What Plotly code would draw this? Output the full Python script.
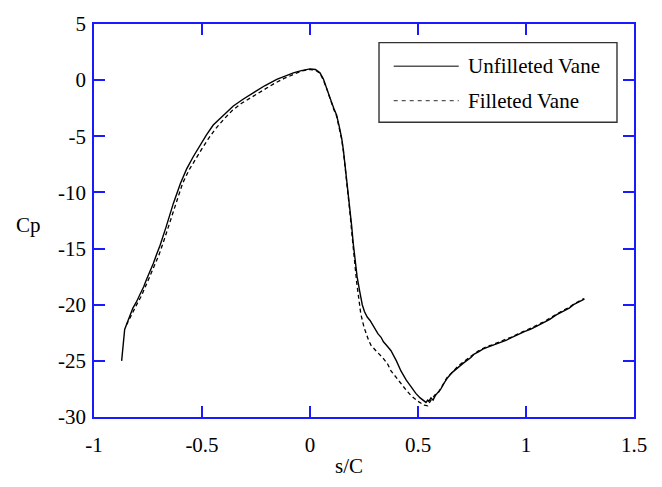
import plotly.graph_objects as go

# Unfilleted vane (solid)
s_unf = [-0.872, -0.868, -0.864, -0.858, -0.848, -0.835, -0.82, -0.805, -0.787, -0.77,
         -0.756, -0.74, -0.725, -0.71, -0.694, -0.665, -0.633, -0.6, -0.571, -0.54,
         -0.509, -0.48, -0.448, -0.4, -0.355, -0.31, -0.262, -0.21, -0.154, -0.11,
         -0.077, -0.04, 0.0, 0.025, 0.046, 0.062, 0.078, 0.093, 0.11, 0.123,
         0.135, 0.147, 0.155, 0.162, 0.17, 0.177, 0.185, 0.193, 0.2, 0.208,
         0.218, 0.231, 0.242, 0.252, 0.265, 0.278, 0.29, 0.301, 0.315, 0.329,
         0.34, 0.358, 0.375, 0.4, 0.421, 0.445, 0.468, 0.49, 0.51, 0.525,
         0.537, 0.545, 0.55, 0.56, 0.57, 0.58, 0.595, 0.606, 0.62, 0.637,
         0.66, 0.684, 0.71, 0.745, 0.76, 0.78, 0.8, 0.82, 0.84, 0.869,
         0.89, 0.91, 0.93, 0.95, 0.97, 0.992, 1.02, 1.05, 1.085, 1.11,
         1.14, 1.177, 1.2, 1.22, 1.24, 1.255, 1.27]
cp_unf = [-25.0, -24.0, -23.0, -22.2, -21.7, -21.0, -20.3, -19.8, -19.1, -18.4,
          -17.7, -17.0, -16.3, -15.5, -14.7, -13.0, -11.0, -9.2, -7.9, -6.8,
          -5.77, -4.9, -4.0, -3.1, -2.3, -1.7, -1.1, -0.5, 0.07, 0.4,
          0.65, 0.85, 1.0, 0.95, 0.65, 0.1, -0.7, -1.6, -2.5, -3.1,
          -4.1, -5.2, -6.3, -7.5, -8.7, -9.8, -11.5, -13.0, -14.5, -16.0,
          -17.5, -18.9, -20.0, -20.6, -21.1, -21.4, -21.8, -22.2, -22.6, -22.9,
          -23.3, -23.7, -24.1, -25.0, -25.9, -26.7, -27.3, -27.9, -28.3, -28.5,
          -28.7, -28.5, -28.6, -28.3, -28.5, -28.1, -27.8, -27.5, -27.0, -26.5,
          -26.0, -25.6, -25.2, -24.7, -24.4, -24.2, -23.95, -23.8, -23.65, -23.5,
          -23.3, -23.15, -22.95, -22.8, -22.6, -22.4, -22.2, -21.9, -21.55, -21.3,
          -20.9, -20.5, -20.3, -20.0, -19.8, -19.6, -19.5]

# Filleted vane (dashed)
s_fil = [-0.85, -0.835, -0.82, -0.8, -0.78, -0.76, -0.74, -0.72, -0.70, -0.68,
         -0.65, -0.62, -0.59, -0.56, -0.53, -0.5, -0.47, -0.44, -0.4, -0.36,
         -0.32, -0.27, -0.22, -0.17, -0.12, -0.08, -0.04, 0.0, 0.025, 0.046,
         0.062, 0.078, 0.093, 0.11, 0.123, 0.135, 0.147, 0.155, 0.162, 0.17,
         0.177, 0.185, 0.193, 0.2, 0.208, 0.216, 0.235, 0.25, 0.27, 0.282,
         0.31, 0.336, 0.36, 0.375, 0.4, 0.421, 0.445, 0.468, 0.5, 0.529,
         0.545, 0.56, 0.58, 0.595, 0.606, 0.62, 0.637, 0.66, 0.684, 0.71,
         0.745, 0.76, 0.78, 0.8, 0.82, 0.84, 0.869, 0.89, 0.91, 0.93,
         0.95, 0.97, 0.992, 1.02, 1.05, 1.085, 1.11, 1.14, 1.177, 1.2,
         1.22, 1.24, 1.255, 1.27]
cp_fil = [-21.8, -21.2, -20.6, -19.9, -19.2, -18.3, -17.5, -16.6, -15.6, -14.5,
          -12.7, -10.8, -9.2, -8.0, -7.0, -6.1, -5.2, -4.4, -3.5, -2.7,
          -2.1, -1.5, -0.9, -0.35, 0.15, 0.5, 0.8, 0.95, 0.9, 0.6,
          0.0, -0.8, -1.7, -2.6, -3.2, -4.2, -5.3, -6.4, -7.6, -8.9,
          -10.1, -11.8, -13.5, -15.0, -16.3, -18.0, -20.8, -22.0, -23.1, -23.6,
          -24.2, -24.7, -25.3, -25.9, -26.5, -27.05, -27.6, -28.1, -28.6, -28.95,
          -29.0, -28.5, -28.0, -27.8, -27.4, -27.0, -26.4, -26.0, -25.5, -25.1,
          -24.6, -24.4, -24.1, -23.9, -23.7, -23.6, -23.4, -23.2, -23.05, -22.9,
          -22.7, -22.5, -22.35, -22.1, -21.85, -21.5, -21.2, -20.85, -20.45, -20.25,
          -19.95, -19.75, -19.55, -19.45]

x_ticks = [-1, -0.5, 0, 0.5, 1, 1.5]
x_tick_labels = ["-1", "-0.5", "0", "0.5", "1", "1.5"]
y_ticks = [5, 0, -5, -10, -15, -20, -25, -30]
y_tick_labels = ["5", "0", "-5", "-10", "-15", "-20", "-25", "-30"]

FONT = "Liberation Serif"
AXC = "#1a1aff"

fig = go.Figure()
fig.add_trace(go.Scatter(x=s_unf, y=cp_unf, mode="lines", name="Unfilleted Vane",
                         line=dict(color="black", width=1.4), showlegend=False))
fig.add_trace(go.Scatter(x=s_fil, y=cp_fil, mode="lines", name="Filleted Vane",
                         line=dict(color="black", width=1.3, dash="4px,3px"), showlegend=False))

axis_common = dict(showline=True, linecolor=AXC, linewidth=1.5, mirror="ticks",
                   ticks="inside", ticklen=11, tickwidth=1.5, tickcolor=AXC,
                   showgrid=False, zeroline=False,
                   tickfont=dict(family=FONT, size=21, color="black"))
fig.update_xaxes(range=[-1, 1.5], tickvals=x_ticks, ticktext=x_tick_labels,
                 ticklabelstandoff=8, **axis_common)
fig.update_yaxes(range=[-30, 5], tickvals=y_ticks, ticktext=y_tick_labels,
                 ticklabelstandoff=2, **axis_common)

# Legend (drawn in paper coordinates)
L = dict(x0=0.5278, x1=0.9685, y0=0.75, y1=0.9525)
fig.add_shape(type="rect", xref="paper", yref="paper", **L,
              line=dict(color="#333333", width=1.4), fillcolor="white")
fig.add_shape(type="line", xref="paper", yref="paper", x0=0.555, x1=0.6754,
              y0=0.8925, y1=0.8925, line=dict(color="#555555", width=1.3))
fig.add_shape(type="line", xref="paper", yref="paper", x0=0.555, x1=0.6754,
              y0=0.805, y1=0.805, line=dict(color="#555555", width=1.2, dash="4px,4px"))
fig.add_annotation(xref="paper", yref="paper", x=0.6889, y=0.8925, text="Unfilleted Vane",
                   showarrow=False, xanchor="left", yanchor="middle",
                   font=dict(family=FONT, size=21, color="black"))
fig.add_annotation(xref="paper", yref="paper", x=0.6889, y=0.805, text="Filleted Vane",
                   showarrow=False, xanchor="left", yanchor="middle",
                   font=dict(family=FONT, size=21, color="black"))

# Axis titles
fig.add_annotation(xref="paper", yref="paper", x=(28 - 94) / 540, y=(417 - 222) / 400,
                   text="Cp", showarrow=False, xanchor="center", yanchor="middle",
                   font=dict(family=FONT, size=21, color="black"))
fig.add_annotation(xref="paper", yref="paper", x=(349 - 94) / 540, y=(417 - 467) / 400,
                   text="s/C", showarrow=False, xanchor="center", yanchor="middle",
                   font=dict(family=FONT, size=21, color="black"))

fig.update_layout(width=662, height=487, margin=dict(l=94, r=28, t=17, b=70),
                  plot_bgcolor="white", paper_bgcolor="white", showlegend=False)

fig.write_html("out.html")
